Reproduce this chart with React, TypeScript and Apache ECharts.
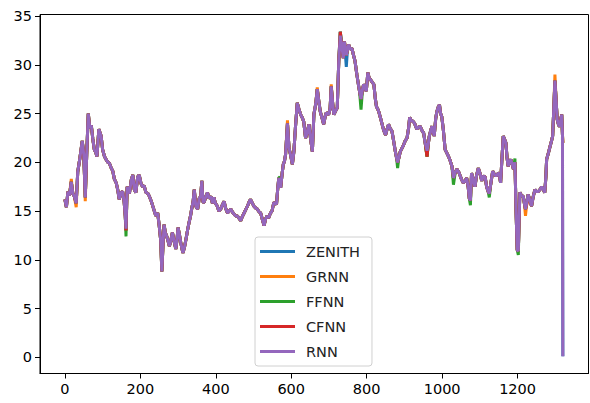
import React, { useEffect, useRef } from "react";
import * as echarts from "echarts";

const seriesNames = ["ZENITH", "GRNN", "FFNN", "CFNN", "RNN"];
const seriesColors = ["#1f77b4", "#ff7f0e", "#2ca02c", "#d62728", "#9467bd"];
const xTicks = [0, 200, 400, 600, 800, 1000, 1200];
const yTicks = [0, 5, 10, 15, 20, 25, 30, 35];

const zenith: [number, number][] = [
  [0,16.2],[4,15.4],[8,17.0],[12,16.6],[17,18.0],[21,16.8],[25,16.5],[30,15.8],[34,19.0],[40,20.5],
  [46,22.2],[50,20.8],[54,16.4],[58,21.0],[62,25.0],[66,23.5],[70,23.8],[74,22.4],[78,21.3],[82,21.0],
  [85,20.6],[90,23.4],[96,22.7],[100,21.3],[105,20.6],[109,20.3],[114,20.0],[118,19.9],[123,19.4],[127,19.1],
  [131,18.3],[136,17.9],[140,17.2],[144,16.2],[149,16.9],[153,17.0],[157,16.0],[160,14.5],[162,13.0],[165,17.5],
  [171,16.8],[176,18.2],[180,18.7],[184,17.2],[188,16.9],[193,18.5],[197,18.7],[202,17.8],[206,17.5],[210,17.6],
  [215,16.9],[220,16.8],[224,16.5],[229,16.0],[233,15.5],[237,15.0],[241,14.5],[246,14.8],[250,13.5],[254,12.0],
  [257,8.8],[260,11.5],[263,13.6],[266,12.8],[270,12.4],[273,12.0],[277,11.4],[281,12.0],[285,12.8],[289,12.0],
  [294,11.1],[297,12.0],[300,13.3],[304,12.5],[307,11.8],[310,11.2],[313,10.7],[317,11.3],[321,12.1],[325,13.0],
  [329,13.8],[333,14.5],[336,15.2],[340,16.0],[343,17.2],[347,15.5],[352,15.2],[356,16.3],[360,16.5],[363,18.1],
  [366,15.9],[369,15.9],[373,16.4],[378,16.9],[382,16.3],[387,16.5],[391,15.8],[395,16.4],[399,15.8],[404,15.5],
  [408,15.0],[413,15.2],[417,15.6],[422,16.0],[426,15.3],[431,14.8],[435,15.0],[440,15.2],[444,14.9],[448,14.7],
  [453,14.5],[457,14.5],[461,14.3],[466,14.0],[470,14.4],[475,14.8],[480,15.2],[484,15.5],[488,15.9],[492,16.2],
  [497,15.8],[501,15.5],[506,15.3],[510,15.2],[515,14.9],[519,14.8],[523,14.2],[528,13.5],[532,14.2],[536,14.5],
  [540,14.3],[545,14.8],[549,15.0],[554,15.9],[557,15.8],[561,15.7],[564,17.2],[567,18.4],[570,17.8],[572,17.4],
  [576,18.9],[579,19.8],[582,20.1],[585,20.8],[590,24.0],[594,21.5],[598,20.8],[603,19.8],[607,21.1],[611,23.5],
  [616,26.1],[620,25.5],[625,24.9],[629,24.6],[633,24.2],[638,22.5],[642,23.0],[647,23.9],[651,22.5],[656,21.1],
  [660,24.9],[665,26.0],[669,27.5],[673,26.3],[677,25.2],[682,24.5],[686,23.9],[690,24.7],[693,25.1],[699,24.9],
  [703,25.5],[706,27.8],[710,26.0],[713,24.9],[718,25.3],[722,25.6],[726,30.4],[730,33.4],[734,32.0],[738,30.7],
  [741,32.4],[746,29.8],[749,31.5],[752,32.1],[756,31.6],[761,31.7],[765,31.0],[769,30.4],[774,29.0],[778,28.0],
  [781,27.3],[785,26.5],[789,27.5],[792,28.0],[796,27.6],[799,27.3],[803,29.2],[807,28.6],[810,28.5],[815,28.2],
  [819,28.0],[823,26.5],[826,25.7],[829,25.5],[832,25.2],[837,24.5],[841,23.9],[845,23.3],[850,22.8],[854,23.4],
  [858,23.9],[862,23.5],[867,23.2],[871,22.3],[876,21.1],[879,20.5],[882,20.0],[885,20.4],[889,21.1],[893,21.4],
  [898,21.8],[902,22.2],[907,22.5],[911,23.5],[914,24.6],[918,24.3],[923,24.2],[927,24.0],[933,23.4],[937,23.6],
  [942,23.7],[946,23.3],[951,23.0],[955,22.0],[960,20.6],[963,21.8],[966,22.7],[970,23.3],[973,23.7],[976,23.2],
  [979,22.7],[983,24.5],[986,25.2],[990,25.7],[993,25.9],[996,25.0],[999,24.7],[1003,23.4],[1008,21.3],[1012,21.0],
  [1017,20.6],[1021,20.2],[1026,19.6],[1030,18.4],[1035,19.0],[1039,19.3],[1044,19.0],[1048,18.6],[1052,18.2],[1056,17.9],
  [1061,18.1],[1065,18.4],[1069,17.5],[1072,16.3],[1075,16.1],[1078,18.9],[1082,18.3],[1087,17.5],[1091,18.6],[1096,19.4],
  [1101,18.8],[1105,18.1],[1109,18.6],[1114,18.5],[1118,17.5],[1122,17.0],[1125,16.8],[1129,17.8],[1134,19.1],[1138,18.8],
  [1143,18.6],[1147,18.8],[1151,18.9],[1155,17.9],[1158,20.0],[1162,22.7],[1166,22.3],[1169,22.0],[1172,20.5],[1175,19.6],
  [1179,20.0],[1182,20.3],[1186,19.8],[1189,19.3],[1193,20.0],[1196,15.0],[1199,11.0],[1202,10.9],[1204,14.0],[1206,16.9],
  [1210,16.6],[1215,16.5],[1218,15.8],[1221,15.2],[1225,16.0],[1228,16.7],[1232,16.2],[1237,15.5],[1241,16.4],[1246,17.2],
  [1250,17.0],[1255,17.0],[1259,17.2],[1264,17.5],[1268,17.2],[1272,16.9],[1275,18.5],[1277,20.3],[1282,21.0],[1286,21.6],
  [1290,22.2],[1293,22.7],[1296,25.5],[1299,28.4],[1302,26.5],[1305,24.4],[1309,23.8],[1312,23.7],[1315,24.5],[1317,24.9],
  [1319,22.8],[1320,0.1],
];

// Model predictions: where each visibly departs from ZENITH (index, value)
const grnnDiffs: [number, number][] = [
  [17,18.3],[30,15.4],[54,16.0],[590,24.3],[669,27.7],[706,28.0],[730,32.8],[746,31.0],[1221,14.5],[1299,29.0],[1320,22.0],
];
const ffnnDiffs: [number, number][] = [
  [162,12.4],[570,18.5],[746,31.0],[785,25.4],[882,19.4],[1030,17.7],[1075,15.6],[1125,16.4],[1193,20.4],[1202,10.5],[1320,22.0],
];
const cfnnDiffs: [number, number][] = [
  [746,31.0],[1225,15.8],[1320,22.0],
];
const rnnDiffs: [number, number][] = [
  [162,13.2],[730,33.0],[746,31.0],[960,21.2],
];

function withDiffs(base: [number, number][], diffs: [number, number][]): [number, number][] {
  const m = new Map(diffs.map((d) => [d[0], d[1]]));
  return base.map(([x, y]) => [x, m.has(x) ? (m.get(x) as number) : y]);
}

export default function App() {
  const ref = useRef<HTMLDivElement>(null);
  useEffect(() => {
    document.body.style.margin = "0";
    if (!ref.current) return;
    const chart = echarts.init(ref.current, undefined, { renderer: "svg" });
    const datasets = [
      zenith,
      withDiffs(zenith, grnnDiffs),
      withDiffs(zenith, ffnnDiffs),
      withDiffs(zenith, cfnnDiffs),
      withDiffs(zenith, rnnDiffs),
    ];
    const font = "DejaVu Sans";
    const fmt = (v: number) => String(v);
    chart.setOption({
      animation: false,
      backgroundColor: "#fff",
      textStyle: { fontFamily: font },
      grid: {
        left: 40, top: 14.5, right: 1.5, bottom: 29.5,
        show: true, borderColor: "#000", borderWidth: 1, containLabel: false,
      },
      xAxis: {
        type: "value", min: -66, max: 1388,
        splitLine: { show: false },
        axisLine: { show: true, onZero: false, lineStyle: { color: "#000", width: 1 } },
        axisTick: { show: true, length: 5, lineStyle: { color: "#000" }, customValues: xTicks },
        axisLabel: { color: "#000", fontSize: 14.5, fontFamily: font, margin: 8, customValues: xTicks, formatter: fmt },
      },
      yAxis: {
        type: "value", min: -1.67, max: 35.17,
        splitLine: { show: false },
        axisLine: { show: true, onZero: false, lineStyle: { color: "#000", width: 1 } },
        axisTick: { show: true, length: 5, lineStyle: { color: "#000" }, customValues: yTicks },
        axisLabel: { color: "#000", fontSize: 14.5, fontFamily: font, margin: 8, customValues: yTicks, formatter: fmt },
      },
      legend: {
        orient: "vertical",
        left: 255, top: 237,
        icon: "rect",
        itemWidth: 35, itemHeight: 3,
        itemGap: 8,
        padding: [6, 12, 6, 5],
        borderColor: "#d0d0d0", borderWidth: 1, borderRadius: 3,
        backgroundColor: "rgba(255,255,255,0.8)",
        textStyle: { color: "#222", fontSize: 14.5, fontFamily: font, lineHeight: 17, padding: [0, 0, 0, 6] },
        data: seriesNames,
      },
      series: seriesNames.map((name, i) => ({
        name,
        type: "line",
        data: datasets[i],
        showSymbol: false,
        symbol: "none",
        color: seriesColors[i],
        lineStyle: { width: 3, color: seriesColors[i] },
        z: 2 + i,
      })),
    });
    return () => chart.dispose();
  }, []);
  return <div ref={ref} style={{ width: 590, height: 403 }} />;
}
